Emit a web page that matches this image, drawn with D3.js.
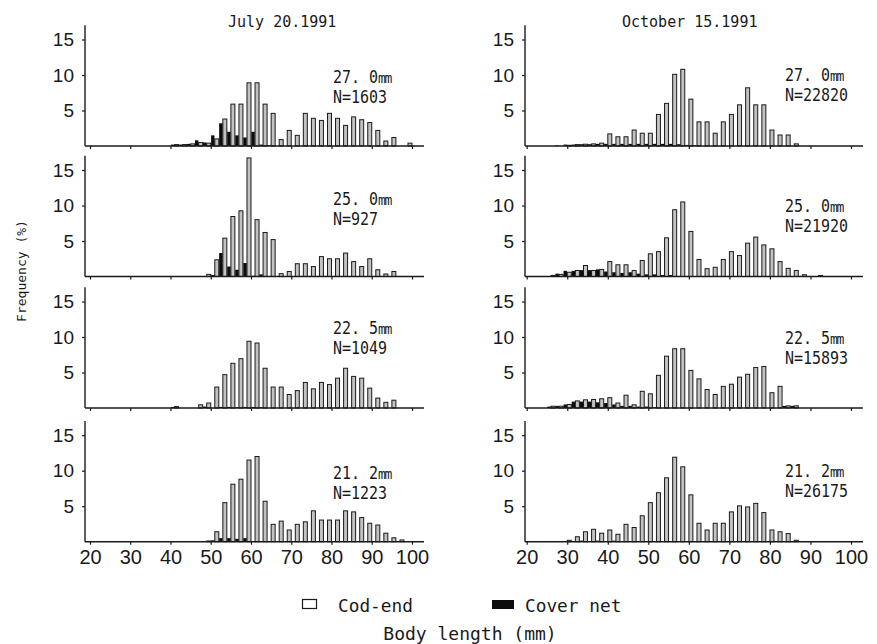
<!DOCTYPE html>
<html>
<head>
<meta charset="utf-8">
<script src="https://cdn.jsdelivr.net/npm/d3@7"></script>
<style>
  html, body { margin: 0; padding: 0; background: #fff; }
  svg { display: block; }
</style>
</head>
<body>
<div id="chart"></div>
<script>
// class mid-points (mm), 2 mm classes
const julyLengths = [
  21.5, 23.5, 25.5, 27.5, 29.5, 31.5, 33.5, 35.5, 37.5, 39.5,
  41.5, 43.5, 45.5, 47.5, 49.5, 51.5, 53.5, 55.5, 57.5, 59.5,
  61.5, 63.5, 65.5, 67.5, 69.5, 71.5, 73.5, 75.5, 77.5, 79.5,
  81.5, 83.5, 85.5, 87.5, 89.5, 91.5, 93.5, 95.5, 97.5, 99.5
];
const octLengths = [
  20.5, 22.5, 24.5, 26.5, 28.5, 30.5, 32.5, 34.5, 36.5, 38.5,
  40.5, 42.5, 44.5, 46.5, 48.5, 50.5, 52.5, 54.5, 56.5, 58.5,
  60.5, 62.5, 64.5, 66.5, 68.5, 70.5, 72.5, 74.5, 76.5, 78.5,
  80.5, 82.5, 84.5, 86.5, 88.5, 90.5, 92.5, 94.5, 96.5, 98.5
];

const meshLabels = ["27. 0", "25. 0", "22. 5", "21. 2"];
const julyN = [1603, 927, 1049, 1223];
const octN = [22820, 21920, 15893, 26175];
const dateLabels = ["July 20.1991", "October 15.1991"];

// frequency (%) - July 20, 1991
const julyCod27 = [
  0, 0, 0, 0, 0, 0, 0, 0, 0, 0,
  0.2, 0.2, 0.3, 0.5, 0.4, 1.0, 3.8, 5.9, 5.9, 8.9,
  8.9, 5.9, 4.6, 0.9, 2.2, 1.5, 4.6, 3.9, 3.6, 4.6,
  3.9, 2.9, 4.1, 3.7, 3.3, 2.2, 0.7, 1.2, 0, 0.4
];
const julyCover27 = [
  0, 0, 0, 0, 0, 0, 0, 0, 0, 0,
  0.2, 0.2, 0.3, 0.8, 0.5, 1.5, 3.2, 2.0, 1.5, 1.2,
  2.0, 0.2, 0.1, 0, 0, 0, 0, 0, 0, 0,
  0, 0, 0, 0, 0, 0, 0, 0, 0, 0
];
const julyCod25 = [
  0, 0, 0, 0, 0, 0, 0, 0, 0, 0,
  0, 0, 0, 0, 0.3, 2.35, 5.4, 8.45, 9.25, 16.7,
  8.0, 6.2, 5.2, 0.4, 0.7, 1.8, 1.8, 1.4, 2.8, 2.5,
  2.5, 3.3, 2.1, 1.4, 2.5, 0.95, 0.35, 0.7, 0, 0
];
const julyCover25 = [
  0, 0, 0, 0, 0, 0, 0, 0, 0, 0,
  0, 0, 0, 0, 0, 0.2, 3.3, 1.4, 0.95, 1.9,
  0.1, 0.3, 0, 0, 0, 0, 0, 0, 0, 0,
  0, 0, 0, 0, 0, 0, 0, 0, 0, 0
];
const julyCod22 = [
  0, 0, 0, 0, 0, 0, 0, 0, 0, 0,
  0.2, 0, 0, 0.45, 0.7, 2.95, 4.7, 6.3, 6.95, 9.4,
  9.15, 5.6, 2.95, 2.95, 1.9, 2.45, 3.6, 2.7, 3.6, 3.3,
  4.2, 5.6, 4.45, 4.2, 2.8, 1.4, 0.8, 1.1, 0, 0
];
const julyCover22 = [
  0, 0, 0, 0, 0, 0, 0, 0, 0, 0,
  0.15, 0, 0, 0, 0.2, 0, 0.15, 0.15, 0.1, 0.15,
  0.15, 0.1, 0, 0, 0, 0, 0, 0, 0, 0,
  0, 0, 0, 0, 0, 0, 0, 0, 0, 0
];
const julyCod21 = [
  0, 0, 0, 0, 0, 0, 0, 0, 0, 0,
  0, 0, 0, 0, 0.1, 1.4, 5.5, 8.1, 8.8, 11.5,
  12.0, 5.7, 2.45, 2.9, 1.65, 2.45, 2.8, 4.35, 3.05, 3.05,
  3.05, 4.35, 4.2, 3.4, 2.6, 2.35, 1.2, 0.55, 0.25, 0
];
const julyCover21 = [
  0, 0, 0, 0, 0, 0, 0, 0, 0, 0,
  0, 0, 0, 0, 0, 0.2, 0.5, 0.5, 0.4, 0.5,
  0, 0, 0, 0, 0, 0, 0, 0, 0, 0,
  0, 0, 0, 0, 0, 0, 0, 0, 0, 0
];

// frequency (%) - October 15, 1991
const octCod27 = [
  0, 0, 0, 0, 0, 0.1, 0.2, 0.25, 0.3, 0.4,
  1.7, 1.3, 1.3, 2.25, 1.8, 1.8, 4.45, 6.0, 10.1, 10.8,
  6.6, 3.4, 3.4, 1.8, 3.4, 4.45, 5.8, 8.2, 5.8, 5.8,
  2.25, 1.55, 1.55, 0.3, 0, 0, 0, 0, 0, 0
];
const octCover27 = [
  0, 0, 0, 0, 0.1, 0.2, 0.2, 0.25, 0.25, 0.3,
  0.3, 0.3, 0.3, 0.3, 0.3, 0.3, 0.3, 0.3, 0.3, 0.25,
  0.15, 0.1, 0, 0, 0, 0, 0, 0, 0, 0,
  0, 0, 0, 0, 0, 0, 0, 0, 0, 0
];
const octCod25 = [
  0, 0, 0, 0.15, 0.3, 0.6, 0.85, 1.55, 0.85, 1.0,
  2.1, 1.65, 1.65, 0.85, 2.25, 3.2, 3.5, 5.45, 9.4, 10.5,
  6.35, 2.4, 1.1, 1.3, 2.4, 3.5, 2.95, 4.7, 5.55, 4.45,
  3.9, 2.1, 1.15, 0.85, 0.25, 0, 0.15, 0, 0, 0
];
const octCover25 = [
  0, 0, 0, 0, 0.4, 0.8, 0.8, 0.9, 0.9, 1.0,
  0.7, 0.6, 0.5, 0.6, 0.4, 0.3, 0.3, 0.2, 0.2, 0,
  0, 0, 0, 0, 0, 0, 0, 0, 0, 0,
  0, 0, 0, 0, 0, 0, 0, 0, 0, 0
];
const octCod22 = [
  0, 0, 0, 0.25, 0.25, 0.5, 1.0, 1.15, 1.2, 1.3,
  1.45, 0.7, 1.8, 0.45, 2.35, 2.0, 4.6, 7.3, 8.35, 8.35,
  5.3, 4.1, 2.6, 1.9, 3.05, 3.35, 4.35, 4.75, 5.7, 5.85,
  2.15, 3.05, 0.3, 0.3, 0, 0, 0, 0, 0, 0
];
const octCover22 = [
  0, 0, 0, 0.2, 0.3, 0.5, 0.9, 0.9, 0.9, 0.8,
  0.7, 0.5, 0.3, 0.3, 0.2, 0.2, 0.1, 0, 0, 0,
  0, 0, 0, 0, 0, 0, 0, 0, 0, 0,
  0, 0, 0.3, 0.3, 0, 0, 0, 0, 0, 0
];
const octCod21 = [
  0, 0, 0, 0, 0, 0.2, 0.7, 1.4, 1.75, 1.2,
  1.65, 1.05, 2.45, 2.0, 3.65, 5.5, 6.9, 9.0, 11.9, 10.55,
  6.6, 2.6, 1.65, 2.6, 2.6, 4.2, 5.05, 4.9, 5.4, 4.1,
  1.65, 1.4, 1.15, 0.2, 0, 0, 0, 0, 0, 0
];
const octCover21 = [
  0, 0, 0, 0, 0, 0.1, 0, 0.15, 0, 0.15,
  0, 0.15, 0, 0.1, 0, 0, 0, 0, 0, 0,
  0, 0, 0, 0, 0, 0, 0, 0, 0, 0,
  0, 0, 0, 0, 0, 0, 0, 0, 0, 0
];

const panels = [
  { col: 0, row: 0, lengths: julyLengths, cod: julyCod27, cover: julyCover27, n: julyN[0] },
  { col: 0, row: 1, lengths: julyLengths, cod: julyCod25, cover: julyCover25, n: julyN[1] },
  { col: 0, row: 2, lengths: julyLengths, cod: julyCod22, cover: julyCover22, n: julyN[2] },
  { col: 0, row: 3, lengths: julyLengths, cod: julyCod21, cover: julyCover21, n: julyN[3] },
  { col: 1, row: 0, lengths: octLengths, cod: octCod27, cover: octCover27, n: octN[0] },
  { col: 1, row: 1, lengths: octLengths, cod: octCod25, cover: octCover25, n: octN[1] },
  { col: 1, row: 2, lengths: octLengths, cod: octCod22, cover: octCover22, n: octN[2] },
  { col: 1, row: 3, lengths: octLengths, cod: octCod21, cover: octCover21, n: octN[3] },
];

// layout
const W = 877, H = 644;
const colLayout = [
  { axisX: 85, left: 90, right: 412, end: 424, textX: 333, titleX: 228 },
  { axisX: 525, left: 526.7, right: 851, end: 863, textX: 785, titleX: 622 },
];
const rowBase = [146, 276.5, 408, 541.7];
const panelH = 120.7;
// label baseline offsets above the x axis, per column/row
const labelDy = [[-63, -72, -74, -63], [-65, -65, -64, -65]];

const mono = "'DejaVu Sans Mono', monospace";
const sans = "'Liberation Sans', Arial, sans-serif";
const ink = "#1a1a1a";

const svg = d3.select("#chart").append("svg")
  .attr("width", W).attr("height", H)
  .attr("viewBox", `0 0 ${W} ${H}`);

panels.forEach((p) => {
  const c = colLayout[p.col];
  const base = rowBase[p.row];

  const x = d3.scaleLinear().domain([20, 100]).range([c.left, c.right]);
  const y = d3.scaleLinear().domain([0, 17]).range([base, base - panelH]);

  const g = svg.append("g");
  const rows = p.lengths.map((L, i) => ({ L, cod: p.cod[i], cover: p.cover[i] }));

  // cod-end bars
  g.selectAll("rect.cod")
    .data(rows.filter((d) => d.cod > 0))
    .join("rect")
    .attr("class", "cod")
    .attr("x", (d) => x(d.L) - 2)
    .attr("y", (d) => y(d.cod))
    .attr("width", 4)
    .attr("height", (d) => base - y(d.cod))
    .attr("fill", "#c2c2c2")
    .attr("stroke", ink)
    .attr("stroke-width", 1);

  // cover net bars, sitting just left of the cod-end bar
  g.selectAll("rect.cover")
    .data(rows.filter((d) => d.cover > 0))
    .join("rect")
    .attr("class", "cover")
    .attr("x", (d) => x(d.L) - 5.7)
    .attr("y", (d) => y(d.cover))
    .attr("width", 3.4)
    .attr("height", (d) => base - y(d.cover))
    .attr("fill", "#0d0d0d");

  // axes lines
  g.append("line")
    .attr("x1", c.axisX).attr("x2", c.end)
    .attr("y1", base).attr("y2", base)
    .attr("stroke", ink).attr("stroke-width", 1.4);
  g.append("line")
    .attr("x1", c.axisX).attr("x2", c.axisX)
    .attr("y1", base).attr("y2", base - panelH)
    .attr("stroke", ink).attr("stroke-width", 1.4);

  const xAxis = d3.axisBottom(x)
    .tickValues([20, 30, 40, 50, 60, 70, 80, 90, 100])
    .tickSize(3)
    .tickFormat(p.row === 3 ? d3.format("d") : () => "");
  const xg = g.append("g").attr("transform", `translate(0,${base})`).call(xAxis);
  xg.select(".domain").remove();
  xg.selectAll("line").attr("stroke", ink).attr("stroke-width", 1.2);
  xg.selectAll("text")
    .attr("dy", null)
    .attr("y", 22.5)
    .attr("font-family", sans)
    .attr("font-size", 20)
    .attr("fill", ink);

  const yAxis = d3.axisLeft(y).tickValues([5, 10, 15]).tickSize(3).tickPadding(8);
  const yg = g.append("g").attr("transform", `translate(${c.axisX},0)`).call(yAxis);
  yg.select(".domain").remove();
  yg.selectAll("line").attr("stroke", ink).attr("stroke-width", 1.2);
  yg.selectAll("text")
    .attr("font-family", sans)
    .attr("font-size", 19)
    .attr("fill", ink);

  // mesh size and sample size
  const ly = base + labelDy[p.col][p.row];
  const t1 = g.append("text")
    .attr("transform", `translate(${c.textX},${ly}) scale(1,1.12)`)
    .attr("font-family", mono).attr("font-size", 15).attr("fill", ink);
  t1.append("tspan").text(meshLabels[p.row]);
  t1.append("tspan").attr("font-size", 13).attr("letter-spacing", -1.5).text("mm");
  g.append("text")
    .attr("transform", `translate(${c.textX},${ly + 20}) scale(1,1.12)`)
    .attr("font-family", mono).attr("font-size", 15).attr("fill", ink)
    .text(`N=${p.n}`);
});

// sampling dates
dateLabels.forEach((d, i) => {
  svg.append("text")
    .attr("x", colLayout[i].titleX).attr("y", 27)
    .attr("font-family", mono).attr("font-size", 15).attr("fill", ink)
    .text(d);
});

// y axis title
svg.append("text")
  .attr("transform", "translate(26,271) rotate(-90)")
  .attr("text-anchor", "middle")
  .attr("font-family", mono).attr("font-size", 13).attr("fill", ink)
  .text("Frequency (%)");

// legend
const legend = svg.append("g");
legend.append("rect")
  .attr("x", 302.5).attr("y", 599.5).attr("width", 14).attr("height", 9)
  .attr("fill", "#fff").attr("stroke", ink).attr("stroke-width", 1.2);
legend.append("text")
  .attr("x", 338).attr("y", 611.5)
  .attr("font-family", mono).attr("font-size", 17.8).attr("fill", ink)
  .text("Cod-end");
legend.append("rect")
  .attr("x", 492).attr("y", 600).attr("width", 22).attr("height", 9)
  .attr("fill", "#0d0d0d");
legend.append("text")
  .attr("x", 525).attr("y", 611.5)
  .attr("font-family", mono).attr("font-size", 17.8).attr("fill", ink)
  .text("Cover net");

svg.append("text")
  .attr("x", 470).attr("y", 640)
  .attr("text-anchor", "middle")
  .attr("font-family", mono).attr("font-size", 18).attr("fill", ink)
  .text("Body length (mm)");
</script>
</body>
</html>
